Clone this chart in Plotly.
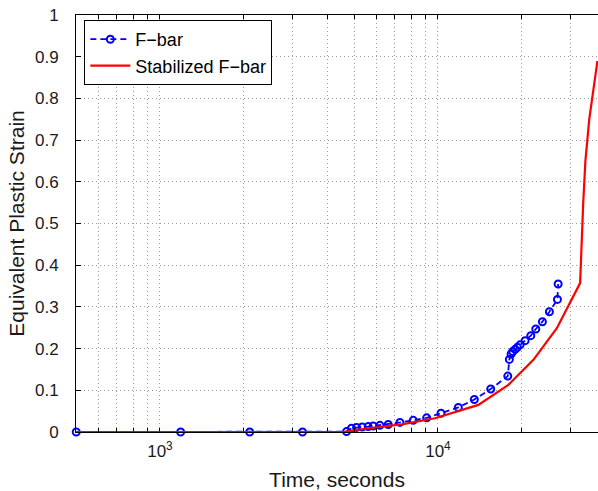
import numpy as np
import plotly.graph_objects as go

# F-bar solution (time in seconds, equivalent plastic strain)
fbar_time = [500, 1187, 2103, 3257, 4690, 4888, 5095, 5339, 5610, 5848, 6182,
             6622, 7298, 8147, 9107, 10252, 11834, 13513, 15478, 17825,
             18060, 18320, 18577, 18937, 19303, 19738, 20576, 21570, 22484,
             23746, 25164, 26893, 27050]
fbar_strain = [0, 0, 0, 0, 0.001, 0.009, 0.011, 0.012, 0.013, 0.0145, 0.016,
               0.018, 0.023, 0.028, 0.034, 0.045, 0.059, 0.078, 0.103, 0.134,
               0.174, 0.187, 0.193, 0.198, 0.203, 0.209, 0.219, 0.231, 0.247,
               0.2645, 0.2885, 0.318, 0.355]

# Stabilized F-bar solution
stab_time = [500, 1187, 2103, 3257, 4550, 5610, 7400, 9755, 13970, 17910,
             22040, 26760, 32450, 33300, 33900, 35000, 37460]
stab_strain = [0, 0, 0, 0, 0, 0.009, 0.0185, 0.033, 0.065, 0.113, 0.173,
               0.249, 0.357, 0.55, 0.65, 0.75, 0.89]

# tick / grid positions on the log time axis
x_grid = [m * 10 ** d for d in (2, 3, 4) for m in range(1, 10)]
x_grid = [v for v in x_grid if 500 <= v <= 40000]
x_text = ["10<sup>3</sup>" if v == 1000 else "10<sup>4</sup>" if v == 10000 else ""
          for v in x_grid]
y_ticks = [round(0.1 * i, 1) for i in range(11)]
y_text = ["0" if v == 0 else "1" if v == 1 else f"{v:g}" for v in y_ticks]

FONT = "Liberation Sans, Arial, sans-serif"
INK = "#1a1a1a"

fig = go.Figure()
fig.add_trace(go.Scatter(
    x=fbar_time, y=fbar_strain, name="F\u2212bar", mode="lines+markers",
    line=dict(color="#0000ff", width=1.8, dash="6px,4px"),
    marker=dict(symbol="circle-open", size=7, color="#0000ff",
                line=dict(width=2, color="#0000ff")),
    cliponaxis=False,
))
fig.add_trace(go.Scatter(
    x=stab_time, y=stab_strain, name="Stabilized F\u2212bar", mode="lines",
    line=dict(color="#ff0000", width=2.2),
    cliponaxis=False,
))

grid = dict(showgrid=True, gridcolor="rgba(0,0,0,0.4)", griddash="1px,3px",
            gridwidth=1)

fig.update_xaxes(
    type="log", range=[np.log10(499), np.log10(37630)],
    tickmode="array", tickvals=x_grid, ticktext=x_text,
    ticks="inside", ticklen=4, tickcolor="black",
    showline=True, linecolor="black", linewidth=1, mirror="ticks",
    tickfont=dict(family=FONT, size=17, color=INK), ticklabelstandoff=4,
    title=dict(text="Time, seconds", font=dict(family=FONT, size=21, color=INK),
               standoff=12),
    zeroline=False, **grid,
)
fig.update_yaxes(
    range=[0, 1], tickmode="array", tickvals=y_ticks, ticktext=y_text,
    ticks="inside", ticklen=5, tickcolor="black",
    showline=True, linecolor="black", linewidth=1, mirror=False,
    tickfont=dict(family=FONT, size=17, color=INK), ticklabelstandoff=13,
    title=dict(text="Equivalent Plastic Strain",
               font=dict(family=FONT, size=21, color=INK), standoff=4),
    zeroline=False, **grid,
)

fig.update_layout(
    width=598, height=491,
    margin=dict(l=76, r=0, t=15, b=59),
    paper_bgcolor="white", plot_bgcolor="white",
    legend=dict(x=0.016, y=0.988, xanchor="left", yanchor="top",
                bgcolor="white", bordercolor="black", borderwidth=1,
                font=dict(family=FONT, size=18, color="black"),
                tracegroupgap=0, itemwidth=40),
    showlegend=True,
)

fig.write_html("out.html")
